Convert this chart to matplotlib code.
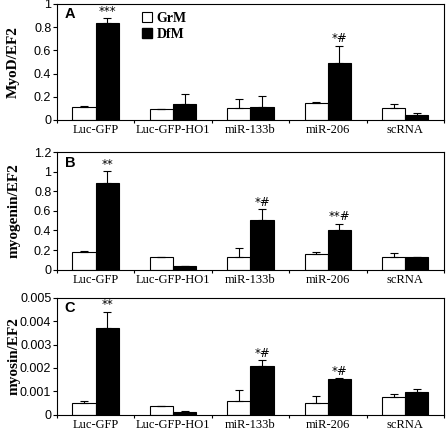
import numpy as np
import matplotlib.pyplot as plt
from matplotlib.patches import Patch

groups = ["Luc-GFP", "Luc-GFP-HO1", "miR-133b", "miR-206", "scRNA"]

# panel A: MyoD/EF2
myod_grm = [0.109, 0.092, 0.10, 0.144, 0.10]
myod_grm_err = [0.008, 0.006, 0.08, 0.008, 0.035]
myod_dfm = [0.833, 0.135, 0.109, 0.494, 0.043]
myod_dfm_err = [0.043, 0.089, 0.098, 0.146, 0.014]
myod_marks = ["***", "", "", "*#", ""]

# panel B: myogenin/EF2
myog_grm = [0.185, 0.13, 0.13, 0.163, 0.13]
myog_grm_err = [0.006, 0.0, 0.09, 0.017, 0.04]
myog_dfm = [0.89, 0.04, 0.51, 0.40, 0.13]
myog_dfm_err = [0.115, 0.0, 0.105, 0.07, 0.0]
myog_marks = ["**", "", "*#", "**#", ""]

# panel C: myosin/EF2
myos_grm = [0.0005, 0.0004, 0.00061, 0.0005, 0.00078]
myos_grm_err = [0.00011, 0.0, 0.00044, 0.00032, 0.00013]
myos_dfm = [0.00372, 0.00013, 0.0021, 0.00153, 0.00097]
myos_dfm_err = [0.00068, 0.00004, 0.00023, 0.00003, 0.00013]
myos_marks = ["**", "", "*#", "*#", ""]

fig = plt.figure(figsize=(4.48, 4.30), dpi=100)

panels = [
    ("A", "MyoD/EF2", myod_grm, myod_grm_err, myod_dfm, myod_dfm_err, myod_marks,
     [0, 0.2, 0.4, 0.6, 0.8, 1], ["0", "0.2", "0.4", "0.6", "0.8", "1"], [0.721, 0.270]),
    ("B", "myogenin/EF2", myog_grm, myog_grm_err, myog_dfm, myog_dfm_err, myog_marks,
     [0, 0.2, 0.4, 0.6, 0.8, 1, 1.2], ["0", "0.2", "0.4", "0.6", "0.8", "1", "1.2"], [0.373, 0.273]),
    ("C", "myosin/EF2", myos_grm, myos_grm_err, myos_dfm, myos_dfm_err, myos_marks,
     [0, 0.001, 0.002, 0.003, 0.004, 0.005], ["0", "0.001", "0.002", "0.003", "0.004", "0.005"], [0.035, 0.273]),
]

x = np.arange(len(groups))
w = 0.3
serif = "Liberation Serif"
sans = "Liberation Sans"

for letter, ylab, grm, grm_e, dfm, dfm_e, marks, yt, ytl, (bottom, height) in panels:
    ax = fig.add_axes([0.127, bottom, 0.864, height])
    ymax = yt[-1]
    ax.bar(x - w / 2, grm, w, color="white", edgecolor="black", linewidth=0.8)
    ax.bar(x + w / 2, dfm, w, color="black", edgecolor="black", linewidth=0.8)
    ax.errorbar(x - w / 2, grm, yerr=[np.zeros(5), grm_e], fmt="none", ecolor="black",
                elinewidth=0.8, capsize=3, capthick=0.8)
    ax.errorbar(x + w / 2, dfm, yerr=[np.zeros(5), dfm_e], fmt="none", ecolor="black",
                elinewidth=0.8, capsize=3, capthick=0.8)
    for i, m in enumerate(marks):
        if m:
            ax.text(x[i] + w / 2, dfm[i] + dfm_e[i] + ymax * 0.005, m, ha="center",
                    va="bottom", fontsize=8.5)
    ax.set_xlim(-0.5, 4.5)
    ax.set_ylim(0, ymax)
    ax.set_yticks(yt)
    ax.set_yticklabels(ytl, fontsize=9, family=sans)
    ax.set_xticks(x)
    ax.set_xticklabels(groups, fontsize=9, family=serif)
    ax.tick_params(axis="x", length=0, pad=3)
    ax.tick_params(axis="y", length=3, width=0.8, pad=1)
    ax.set_xticks(np.arange(-0.5, 5, 1), minor=True)
    ax.tick_params(axis="x", which="minor", length=2, width=0.8)
    for s in ax.spines.values():
        s.set_linewidth(0.8)
    ax.set_ylabel(ylab, fontsize=11, fontweight="bold", family=serif)
    ax.yaxis.set_label_coords(-0.095, 0.5)
    ax.text(0.02, 0.97, letter, transform=ax.transAxes, fontsize=10.5, fontweight="bold",
            va="top", ha="left", family=sans)
    if letter == "A":
        handles = [Patch(facecolor="white", edgecolor="black", linewidth=0.8),
                   Patch(facecolor="black", edgecolor="black")]
        ax.legend(handles, ["GrM", "DfM"], loc="upper left", bbox_to_anchor=(0.22, 0.93),
                  frameon=False, handlelength=0.75, handleheight=0.75, handletextpad=0.3,
                  labelspacing=0.2, borderaxespad=0, borderpad=0,
                  prop={"family": serif, "weight": "bold", "size": 10})

fig.savefig("out.png", dpi=100)
